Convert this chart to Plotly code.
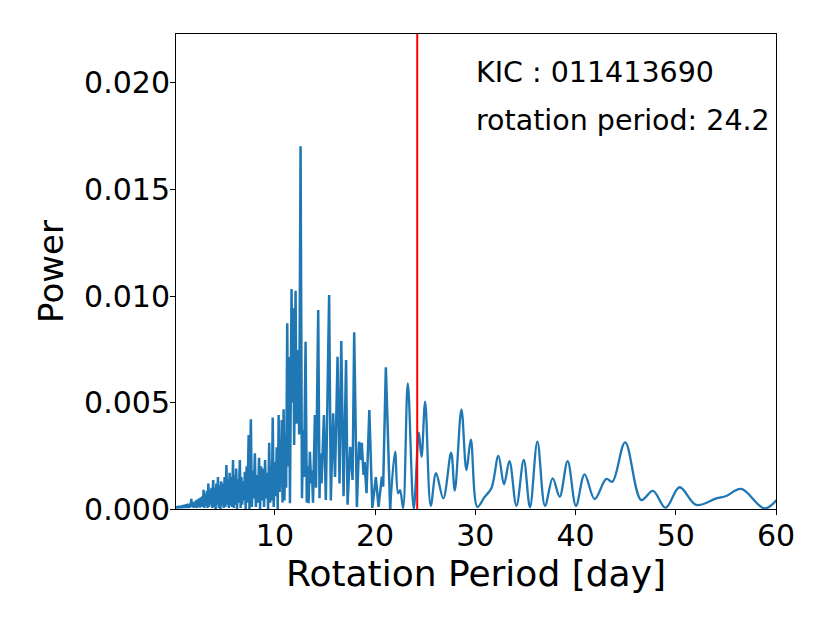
import plotly.graph_objects as go

# Periodogram, dense short-period part (period in days, power in units of 1e-3)
period_dense = [
    0.13, 0.2, 0.28, 0.36, 0.44, 0.52, 0.6, 0.68, 0.76, 0.84, 0.92, 1.0, 1.08, 1.16, 1.24,
    1.32, 1.4, 1.48, 1.56, 1.66, 1.74, 1.82, 1.9, 1.98, 2.06, 2.14, 2.22, 2.3, 2.38, 2.46,
    2.54, 2.62, 2.7, 2.78, 2.82, 2.88, 2.96, 3.04, 3.12, 3.2, 3.28, 3.36, 3.44, 3.52, 3.6,
    3.68, 3.76, 3.84, 3.92, 4.0, 4.08, 4.16, 4.24, 4.32, 4.4, 4.48, 4.56, 4.64, 4.72, 4.8,
    4.88, 4.98, 5.06, 5.16, 5.24, 5.32, 5.4, 5.48, 5.56, 5.64, 5.72, 5.82, 5.9, 5.98, 6.06,
    6.14, 6.22, 6.3, 6.38, 6.5, 6.58, 6.66, 6.74, 6.84, 6.92, 7.0, 7.08, 7.18, 7.26, 7.38,
    7.46, 7.6, 7.7, 7.8, 7.88, 8.0, 8.1, 8.2, 8.3, 8.42, 8.52, 8.62, 8.72, 8.82, 8.92,
    9.02, 9.12, 9.22, 9.32, 9.43, 9.53, 9.62, 9.7, 9.78, 9.88, 9.98, 10.08, 10.18, 10.28, 10.37,
    10.47, 10.57, 10.62, 10.68, 10.76, 10.87, 10.95, 11.05, 11.12, 11.23, 11.32, 11.42, 11.5, 11.66, 11.75,
    11.83, 11.92, 12.06, 12.15, 12.33, 12.42, 12.56, 12.7, 12.82, 12.9, 13.06, 13.18, 13.28, 13.36, 13.49,
    13.62, 13.7, 13.8, 13.99, 14.1, 14.32, 14.45, 14.52, 14.65, 14.89, 15.08, 15.41, 15.58, 15.81, 16.0,
    16.25, 16.45, 16.62, 16.85, 17.1, 17.25, 17.51, 17.75, 17.91, 18.18, 18.4, 18.55, 18.67, 18.84, 18.95,
    19.14, 19.42, 19.72, 20.07, 20.34, 20.67, 20.8, 21.07, 21.5,
]
power_dense_e3 = [
    0.05, 0.12, 0.03, 0.15, 0.04, 0.14, 0.05, 0.16, 0.04, 0.18, 0.06, 0.2, 0.05, 0.22, 0.06,
    0.25, 0.05, 0.24, 0.08, 0.47, 0.1, 0.3, 0.06, 0.35, 0.08, 0.4, 0.05, 0.45, 0.1, 0.5,
    0.06, 0.55, 0.12, 0.6, 0.1, 0.9, 0.05, 0.7, 0.15, 0.85, 0.05, 1.2, 0.1, 0.9, 0.2,
    1.0, 0.05, 1.36, 0.1, 1.0, 0.0, 1.2, 0.2, 1.5, 0.05, 1.1, 0.0, 1.3, 0.15, 1.2,
    0.05, 1.5, 0.1, 2.06, 0.2, 1.4, 0.05, 1.7, 0.15, 1.5, 0.1, 2.3, 0.05, 1.6, 0.2,
    1.9, 0.0, 1.4, 0.3, 2.3, 0.05, 1.5, 0.2, 1.3, 0.4, 1.75, 0.0, 2.0, 0.3, 3.47,
    0.0, 4.21, 0.1, 1.8, 0.5, 2.62, 0.1, 1.6, 0.3, 2.41, 0.0, 2.0, 0.4, 1.9, 0.1,
    2.3, 0.5, 1.7, 0.0, 3.11, 0.3, 2.0, 0.4, 4.29, 0.1, 2.2, 0.6, 2.9, 0.0, 4.41,
    0.8, 3.0, 1.5, 4.18, 0.3, 4.68, 0.4, 3.5, 1.0, 8.72, 2.0, 7.14, 0.27, 10.33, 5.0,
    9.42, 3.0, 10.25, 4.0, 7.46, 3.5, 17.03, 0.5, 3.71, 1.5, 7.85, 0.3, 2.0, 0.27, 2.69,
    1.2, 1.8, 0.3, 4.41, 1.0, 9.34, 0.5, 2.6, 1.2, 4.41, 0.42, 10.05, 0.4, 4.49, 1.5,
    7.15, 1.2, 7.89, 0.6, 7.0, 0.2, 2.92, 1.36, 8.3, 0.1, 3.16, 2.3, 3.11, 1.6, 2.2,
    0.74, 4.65, 0.05, 1.5, 0.1, 1.52, 1.05, 6.65, 0.0,
]

# Smoother long-period part
period_smooth = [
    21.5, 21.99, 22.29, 22.49, 22.79, 23.26, 23.85, 24.36, 24.63, 24.99, 25.55, 26.08, 26.8, 27.58,
    27.95, 28.61, 29.11, 29.55, 30.2, 30.9, 31.6, 32.3, 32.86, 33.4, 34.1, 34.83, 35.45, 36.19,
    36.95, 37.72, 38.41, 39.21, 40.04, 40.9, 41.9, 43.07, 43.67, 44.95, 46.56, 47.72, 48.98, 50.38,
    52.04, 54.04, 55.03, 56.53, 58.85, 60.3,
]
power_smooth_e3 = [
    0.0, 2.69, 0.74, 0.89, 0.05, 5.9, 0.0, 3.58, 2.45, 5.04, 0.15, 1.68, 0.5, 2.64,
    0.86, 4.68, 1.83, 3.26, 0.1, 0.55, 0.97, 2.49, 1.16, 2.25, 0.15, 2.3, 0.08, 3.16,
    0.15, 1.44, 0.58, 2.25, 0.15, 1.63, 0.47, 1.41, 1.28, 3.13, 0.42, 0.85, 0.06, 1.02,
    0.19, 0.5, 0.61, 0.94, 0.03, 0.55,
]

rotation_period = 24.2
kic_label = "KIC : 011413690"
rot_label = "rotation period: 24.2"
x_ticks = [10, 20, 30, 40, 50, 60]
y_ticks = [0.0, 0.005, 0.010, 0.015, 0.020]

blue = "#1f77b4"
font_family = "DejaVu Sans"

fig = go.Figure()
fig.add_trace(go.Scatter(
    x=period_dense, y=[v * 1e-3 for v in power_dense_e3],
    mode="lines", line=dict(color=blue, width=2.5), showlegend=False,
))
fig.add_trace(go.Scatter(
    x=period_smooth, y=[v * 1e-3 for v in power_smooth_e3],
    mode="lines", line=dict(color=blue, width=2.3, shape="spline", smoothing=1.0), showlegend=False,
))

fig.add_shape(type="line", x0=rotation_period, x1=rotation_period, y0=0, y1=1,
              xref="x", yref="paper", line=dict(color="red", width=2))

fig.add_annotation(x=29.85, y=0.0205, xref="x", yref="y", text=kic_label, showarrow=False,
                   xanchor="left", yanchor="middle", font=dict(size=28.5, color="black", family=font_family))
fig.add_annotation(x=29.85, y=0.01826, xref="x", yref="y", text=rot_label, showarrow=False,
                   xanchor="left", yanchor="middle", font=dict(size=28.5, color="black", family=font_family))

axis_common = dict(
    showline=True, linecolor="black", linewidth=1, mirror=True,
    ticks="outside", ticklen=5, tickwidth=1, tickcolor="black",
    showgrid=False, zeroline=False,
    tickfont=dict(size=30, color="black", family=font_family),
)

fig.update_layout(
    width=830, height=623,
    margin=dict(l=168, r=62, t=26, b=122),
    paper_bgcolor="white", plot_bgcolor="white",
    font=dict(family=font_family, color="black"),
    xaxis=dict(range=[0.13, 60], tickvals=x_ticks, ticktext=[str(t) for t in x_ticks],
               ticklabelstandoff=-5,
               title=dict(text="Rotation Period [day]", font=dict(size=36, color="black"), standoff=0),
               **axis_common),
    yaxis=dict(range=[0, 0.0223], tickvals=y_ticks, ticktext=[f"{t:.3f}" for t in y_ticks],
               ticklabelstandoff=-6,
               title=dict(text="Power", font=dict(size=34, color="black"), standoff=10),
               **axis_common),
)

fig.write_html("out.html")
